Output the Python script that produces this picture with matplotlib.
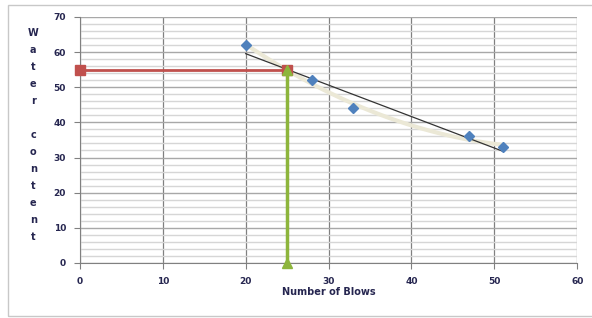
import numpy as np
from matplotlib import pyplot as plt
from matplotlib.patches import Rectangle
from matplotlib.ticker import MultipleLocator

# data
blows = [20, 28, 33, 47, 51]
water = [62, 52, 44, 36, 33]
red_x = [0, 25]
red_y = [55, 55]
green_x = [25, 25]
green_y = [0, 55]
ylabel_text = "Water content"

TXT = "#262650"

fig = plt.figure(figsize=(5.92, 3.18), dpi=100)
fig.patches.append(Rectangle((0.014, 0.005), 0.99, 0.98, transform=fig.transFigure,
                             fill=False, edgecolor="#c8c8c8", lw=1))
ax = fig.add_axes([0.135, 0.173, 0.84, 0.774])

ax.set_xlim(0, 60)
ax.set_ylim(0, 70)
ax.xaxis.set_major_locator(MultipleLocator(10))
ax.yaxis.set_major_locator(MultipleLocator(10))
ax.yaxis.set_minor_locator(MultipleLocator(2))
ax.grid(axis="x", which="major", color="#808080", lw=0.9)
ax.grid(axis="y", which="major", color="#a8a8a8", lw=1.0)
ax.grid(axis="y", which="minor", color="#d6d6d6", lw=1.0)
ax.set_axisbelow(True)
ax.tick_params(which="minor", length=0)
ax.tick_params(which="major", length=4, color="#808080", labelsize=6.5, labelcolor=TXT, pad=6)
for lab in ax.get_xticklabels() + ax.get_yticklabels():
    lab.set_fontweight("bold")
for s in ["top", "right"]:
    ax.spines[s].set_visible(False)
for s in ["left", "bottom"]:
    ax.spines[s].set_color("#808080")

# faint smooth curve + linear trend
xs = np.linspace(min(blows), max(blows), 100)
q = np.polyfit(blows, water, 2)
ax.plot(xs, np.polyval(q, xs), color="#ebe8d6", lw=3, zorder=2)
p = np.polyfit(blows, water, 1)
ax.plot(xs, np.polyval(p, xs), color="#333333", lw=0.9, zorder=3)

ax.plot(blows, water, "D", color="#4f81bd", ms=5, zorder=4)
ax.plot(red_x, red_y, color="#c0504d", lw=2, marker="s", ms=7, zorder=5, clip_on=False)
ax.plot(green_x, green_y, color="#8db53c", lw=2.5, marker="^", ms=7, zorder=6, clip_on=False)

ax.set_xlabel("Number of Blows", fontsize=7, fontweight="bold", color=TXT, labelpad=1)

# stacked vertical letters for the y label
y0 = 0.897
for ch in ylabel_text:
    if ch != " ":
        fig.text(0.056, y0, ch, fontsize=7, fontweight="bold", color=TXT,
                 ha="center", va="center")
    y0 -= 0.0535

fig.savefig("out.png", dpi=100)
